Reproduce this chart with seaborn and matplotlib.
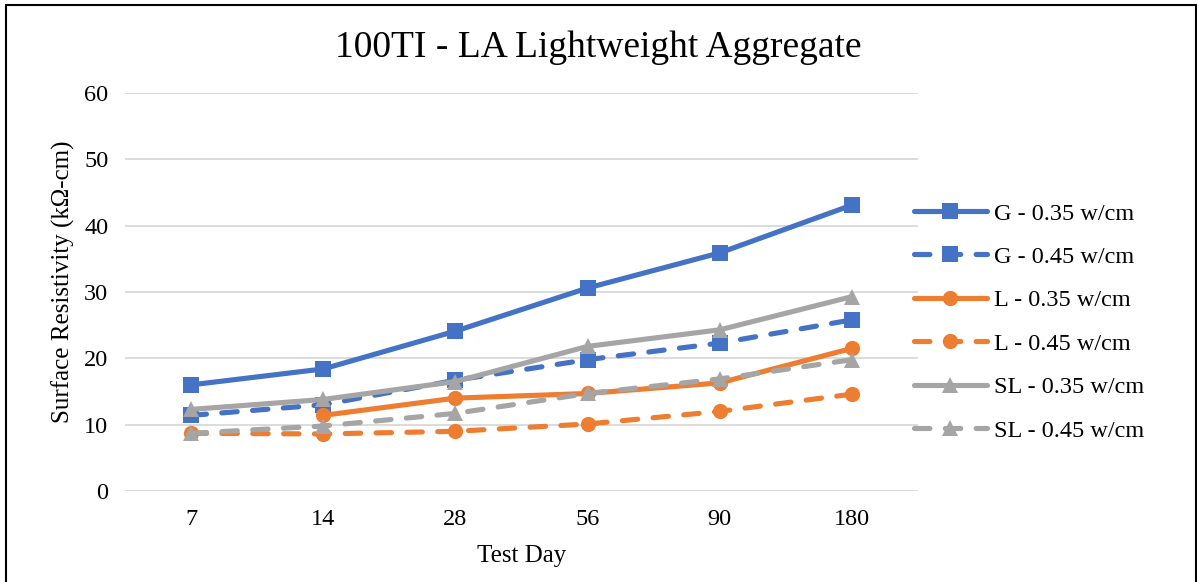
import numpy as np
import pandas as pd
import matplotlib
matplotlib.use("Agg")
import matplotlib.pyplot as plt
from matplotlib.lines import Line2D
import seaborn as sns

# ---- data ----
days = ["7", "14", "28", "56", "90", "180"]
g_035 = [16.0, 18.4, 24.1, 30.6, 35.9, 43.1]
g_045 = [11.4, 13.0, 16.7, 19.8, 22.3, 25.8]
l_035 = [np.nan, 11.4, 14.0, 14.7, 16.3, 21.5]
l_045 = [8.7, 8.6, 9.0, 10.1, 12.0, 14.6]
sl_035 = [12.3, 13.8, 16.5, 21.8, 24.3, 29.3]
sl_045 = [8.7, 9.8, 11.7, 14.7, 16.9, 19.8]
series_labels = ["G - 0.35 w/cm", "G - 0.45 w/cm", "L - 0.35 w/cm",
                 "L - 0.45 w/cm", "SL - 0.35 w/cm", "SL - 0.45 w/cm"]
title = "100TI - LA Lightweight Aggregate"
xlabel = "Test Day"
ylabel = "Surface Resistivity (kΩ-cm)"

series = [g_035, g_045, l_035, l_045, sl_035, sl_045]
colors = ["#4472C4", "#4472C4", "#ED7D31", "#ED7D31", "#A5A5A5", "#A5A5A5"]
markers = ["s", "s", "o", "o", "^", "^"]
dashed = [False, True, False, True, False, True]

sns.set_theme(style="white")
plt.rcParams["font.family"] = ["Liberation Serif", "DejaVu Serif"]
plt.rcParams["text.color"] = "black"
plt.rcParams["axes.labelcolor"] = "black"

fig = plt.figure(figsize=(11.97, 5.82), dpi=100)
ax = fig.add_axes([125 / 1197, 1 - 491 / 582, (918 - 125) / 1197, (491 - 93) / 582])

for vals, lab, c, m, d in zip(series, series_labels, colors, markers, dashed):
    df = pd.DataFrame({"day": days, "value": vals})
    sns.lineplot(data=df, x="day", y="value", ax=ax, sort=False, color=c,
                 marker=m, markersize=11 if m != "^" else 12,
                 markeredgewidth=0, linewidth=3.7, label=lab,
                 dash_capstyle="round", solid_capstyle="round")

for line, d in zip(ax.get_lines(), dashed):
    if d:
        line.set_dashes((3, 3))
        line.set_dash_capstyle("round")

ax.set_xlim(-0.5, 5.5)
ax.set_ylim(0, 60)
ax.set_yticks(range(0, 61, 10))
ax.yaxis.grid(True, color="#D9D9D9", linewidth=1.3)
ax.xaxis.grid(False)
for s in ax.spines.values():
    s.set_visible(False)
ax.tick_params(axis="both", length=0, labelsize=17.5, colors="black")
ax.tick_params(axis="y", pad=12)
ax.tick_params(axis="x", pad=13)
ax.set_xlabel(xlabel, fontsize=18, labelpad=11)
ax.set_ylabel(ylabel, fontsize=18)
ax.yaxis.set_label_coords(-0.063, 0.525)

fig.text(598 / 1197, 1 - 48 / 582, title, ha="center", va="center", fontsize=27)

ax.legend(loc="center left", bbox_to_anchor=(914 / 1197, 1 - 322 / 582),
          bbox_transform=fig.transFigure, frameon=False, fontsize=17.5,
          handlelength=3.0, handletextpad=0.3, labelspacing=0.88,
          borderaxespad=0, borderpad=0)

# outer frame (left, top, right)
fig.add_artist(Line2D([6 / 1197, 6 / 1197], [0, 1 - 5 / 582], color="black", lw=1.5,
                      transform=fig.transFigure))
fig.add_artist(Line2D([6 / 1197, 1196 / 1197], [1 - 5 / 582, 1 - 5 / 582], color="black", lw=1.5,
                      transform=fig.transFigure))
fig.add_artist(Line2D([1196 / 1197, 1196 / 1197], [0, 1 - 5 / 582], color="black", lw=1.5,
                      transform=fig.transFigure))

fig.savefig("out.png", dpi=100)
